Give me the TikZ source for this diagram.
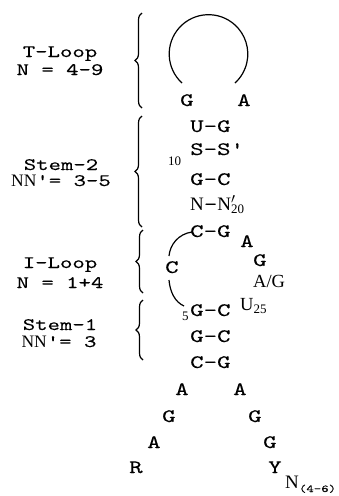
\documentclass[tikz,border=0pt]{standalone}
\usepackage{fontspec}
\usepackage{graphicx}
\newfontfamily\monofont{lmmono10-regular.otf}[FakeStretch=1.35, FakeBold=0.12]
\newfontfamily\romfont{Liberation Serif}
\usetikzlibrary{decorations.pathreplacing}
\tikzset{
  lbl/.style={anchor=base, inner sep=0pt, font=\monofont\fontsize{17.5}{17.5}\selectfont},
  base/.style={anchor=base west, inner sep=0pt, font=\monofont\fontsize{19}{19}\selectfont},
  rom/.style={anchor=base west, inner sep=0pt, font=\romfont\fontsize{18.5}{18.5}\selectfont},
  idx/.style={anchor=base west, inner sep=0pt, font=\romfont\fontsize{13}{13}\selectfont},
  curly/.style={decorate, decoration={brace, amplitude=7pt}, line width=1.2pt},
  loopline/.style={line width=1.2pt}
}
\begin{document}
\begin{tikzpicture}[x=1pt, y=-1pt]
\useasboundingbox (0,0) rectangle (339,496);

% labels on the left
\node[lbl] (tl1) at (60,57) {T-Loop};
\node[lbl] (tl2) at (60,75) {N = 4-9};
\node[lbl] (s21) at (61,170) {Stem-2};
\node[lbl] (s22) at (61,186) {{\romfont NN}'= 3-5};
\node[lbl] (il1) at (60,268) {I-Loop};
\node[lbl] (il2) at (60,288) {N = 1+4};
\node[lbl] (s11) at (60,330) {Stem-1};
\node[lbl] (s12) at (59,347) {{\romfont NN}'= 3};

% braces
\draw[curly] (142,108) -- (142,13);
\draw[curly] (142,227) -- (142,116);
\draw[curly] (143,293) -- (143,230);
\draw[curly] (143,360) -- (143,300);

% T-loop
\node[base] (tG) at (180,106) {G};
\node[base] (tA) at (237,106) {A};
\coordinate (tArcL) at (182,83);
\draw[loopline] (tArcL) arc[start angle=132.4, end angle=407.6, radius=39.3];

% stem 2
\node[base] (p1) at (190,132) {U-G};
\node[idx] (n10) at (168,165) {10};
\node[base] (p2) at (190,155) {S-S'};
\node[base] (p3) at (190,185) {G-C};
\node[base] (p4) at (190,210) {{\romfont N}-{\romfont N}\rlap{\romfont$'$}\raisebox{-3pt}{\romfont\fontsize{13}{13}\selectfont 20}};

% I-loop
\node[base] (p5) at (190,237) {C-G};
\node[base] (lA1) at (240,247) {A};
\node[base] (lG1) at (253,266) {G};
\node[rom] (lAG) at (253,287) {A/G};
\node[rom] (lU) at (240,310) {U\raisebox{-3pt}{\fontsize{13}{13}\selectfont 25}};
\node[base] (lC) at (165,273) {C};
\coordinate (cTop) at (192,232);
\coordinate (cUp) at (169,256);
\coordinate (cLo) at (169,280);
\coordinate (cBot) at (184,306);
\draw[loopline] (cTop) .. controls (178,234) and (170,245) .. (cUp);
\draw[loopline] (cLo) .. controls (170,292) and (175,302) .. (cBot);

% stem 1
\node[idx] (n5) at (182,320) {5};
\node[base] (p6) at (190,316) {G-C};
\node[base] (p7) at (190,342) {G-C};
\node[base] (p8) at (190,368) {C-G};

% single strands
\node[base] (bA1) at (175,395) {A};
\node[base] (bA2) at (233,395) {A};
\node[base] (bG1) at (162,422) {G};
\node[base] (bG2) at (248,422) {G};
\node[base] (bA3) at (147,448) {A};
\node[base] (bG3) at (263,448) {G};
\node[base] (bR) at (129,473) {R};
\node[base] (bY) at (268,473) {Y};
\node[base] (bN) at (285,488) {{\romfont N}\raisebox{-4pt}{\fontsize{10.5}{10.5}\selectfont (4-6)}};
\end{tikzpicture}
\end{document}
